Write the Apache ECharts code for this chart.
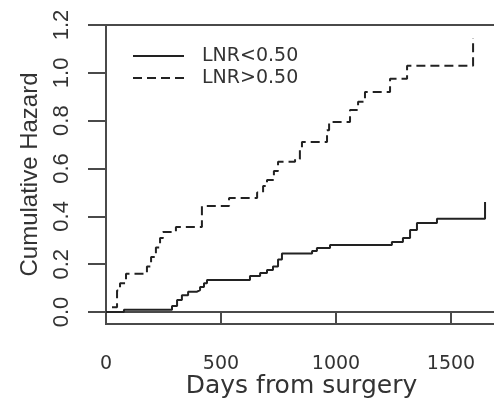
<!DOCTYPE html>
<html>
<head>
<meta charset="utf-8">
<script src="https://cdn.jsdelivr.net/npm/echarts@6/dist/echarts.min.js"></script>
<style>
  html, body { margin: 0; padding: 0; background: #fff; }
  #main { width: 494px; height: 401px; }
</style>
</head>
<body>
<div id="main"></div>
<script>
// cumulative hazard step curves
var lowName = "LNR<0.50";
var lowDays = [0, 78, 287, 309, 330, 357, 396, 409, 426, 439, 626, 670, 700, 726, 748, 765, 896, 917, 974, 1243, 1291, 1322, 1352, 1439, 1648];
var lowHazard = [0, 0.01, 0.025, 0.05, 0.07, 0.085, 0.092, 0.105, 0.12, 0.134, 0.151, 0.163, 0.176, 0.19, 0.22, 0.245, 0.255, 0.268, 0.28, 0.293, 0.31, 0.343, 0.372, 0.39, 0.46];

var highName = "LNR>0.50";
var highDays = [26, 48, 61, 87, 178, 196, 217, 235, 248, 304, 417, 535, 657, 683, 700, 730, 748, 822, 843, 852, 961, 970, 1061, 1096, 1126, 1235, 1309, 1596];
var highHazard = [0.02, 0.09, 0.12, 0.16, 0.19, 0.23, 0.27, 0.31, 0.335, 0.355, 0.443, 0.477, 0.5, 0.527, 0.552, 0.59, 0.628, 0.64, 0.678, 0.711, 0.76, 0.795, 0.845, 0.879, 0.92, 0.975, 1.03, 1.146];

var xTicks = [0, 500, 1000, 1500];
var yTicks = [0, 0.2, 0.4, 0.6, 0.8, 1.0, 1.2];

function zip(a, b) {
  return a.map(function (v, i) { return [v, b[i]]; });
}

var chart = echarts.init(document.getElementById("main"));
var axisCol = "#4a4a4a";
var textCol = "#333";

var option = {
  animation: false,
  grid: {
    left: 106, top: 25, width: 391, height: 299,
    outerBoundsMode: "none", containLabel: false,
    show: true, borderColor: axisCol, borderWidth: 2
  },
  legend: {
    orient: "vertical",
    left: 127, top: 41,
    itemWidth: 51, itemHeight: 14, itemGap: 2,
    itemStyle: { opacity: 0 },
    textStyle: { fontFamily: "DejaVu Sans", fontSize: 19, color: textCol, lineHeight: 20, padding: [0, 0, 0, 13] },
    data: [lowName, highName]
  },
  xAxis: {
    type: "value", min: 0, max: 1700,
    name: "Days from surgery", nameLocation: "middle", nameGap: 50, nameMoveOverlap: false,
    nameTextStyle: { fontFamily: "DejaVu Sans", fontSize: 25, color: textCol },
    axisLine: { show: true, lineStyle: { color: axisCol, width: 2 } },
    axisTick: { show: true, length: 12, customValues: xTicks, lineStyle: { color: axisCol, width: 2 } },
    axisLabel: {
      customValues: xTicks, margin: 31, fontFamily: "DejaVu Sans", fontSize: 19, color: textCol,
      formatter: function (v) { return String(v); }
    },
    splitLine: { show: false }
  },
  yAxis: {
    type: "value", min: -0.05, max: 1.2,
    name: "Cumulative Hazard", nameLocation: "middle", nameGap: 64, nameMoveOverlap: false,
    nameTextStyle: { fontFamily: "Liberation Sans", fontSize: 24, color: textCol },
    axisLine: { show: true, lineStyle: { color: axisCol, width: 2 } },
    axisTick: { show: true, length: 18, customValues: yTicks, lineStyle: { color: axisCol, width: 2 } },
    axisLabel: {
      customValues: yTicks, rotate: 90, margin: 33,
      fontFamily: "Liberation Sans", fontSize: 22, color: textCol,
      formatter: function (v) { return v.toFixed(1); }
    },
    splitLine: { show: false }
  },
  series: [
    {
      name: lowName, type: "line", step: "end", symbol: "none",
      lineStyle: { color: "#222", width: 2 },
      itemStyle: { color: "#222" },
      data: zip(lowDays, lowHazard)
    },
    {
      name: highName, type: "line", step: "end", symbol: "none",
      lineStyle: { color: "#222", width: 2, type: [9, 5] },
      itemStyle: { color: "#222" },
      data: zip(highDays, highHazard)
    }
  ]
};
chart.setOption(option);
</script>
</body>
</html>
